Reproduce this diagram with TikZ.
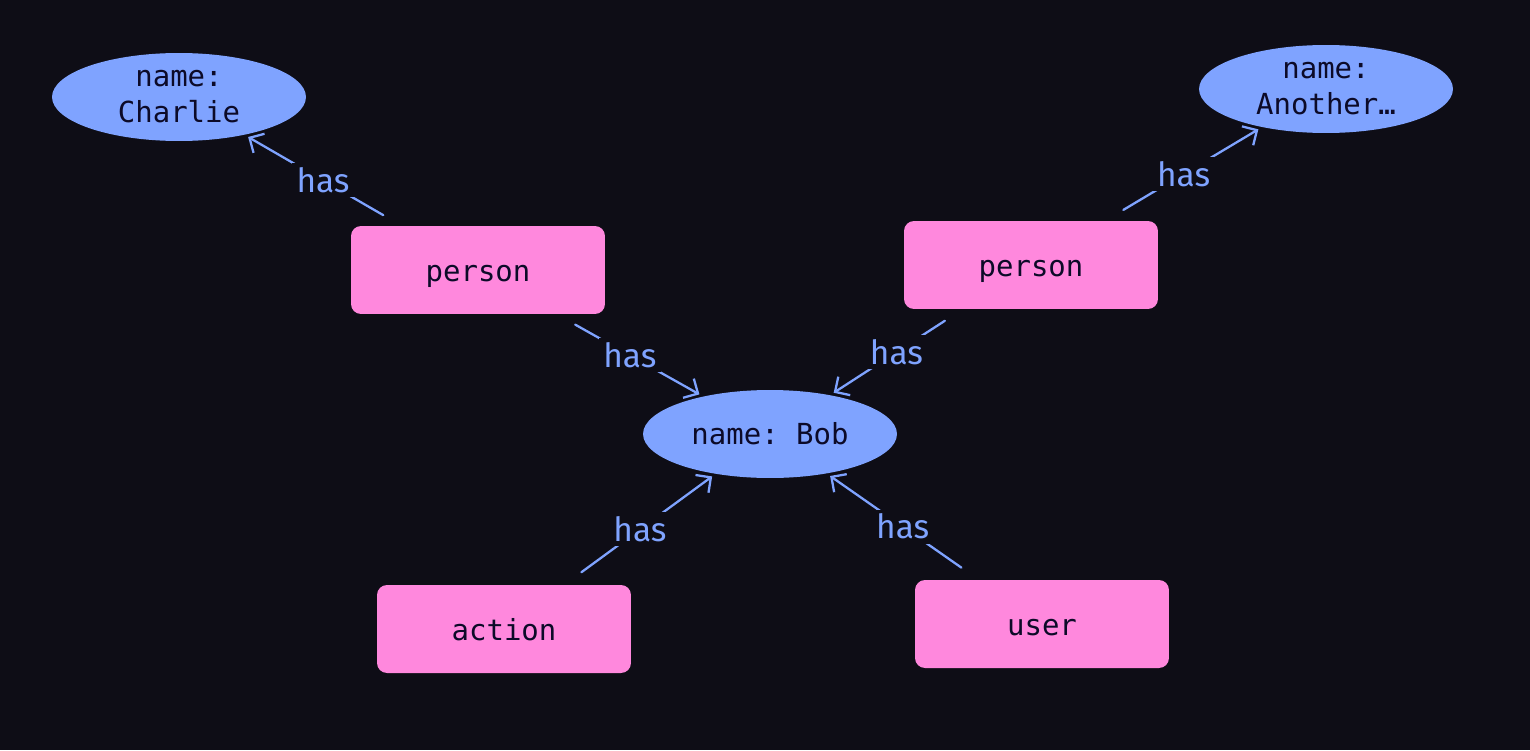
\documentclass[tikz,border=0pt]{standalone}
\usepackage{fontspec}
\usetikzlibrary{shapes.geometric,arrows.meta}
\newfontfamily\nodefont{DejaVu Sans Mono}
\newfontfamily\labelfont{Fira Sans}
\definecolor{bgdark}{HTML}{0E0D16}
\definecolor{propblue}{HTML}{7FA3FF}
\definecolor{typepink}{HTML}{FF88DD}
\definecolor{inkdark}{HTML}{0C0A28}
\frenchspacing
\begin{document}
\begin{tikzpicture}[x=0.02cm, y=-0.02cm, line join=round, line cap=round,
    typebox/.style={rectangle, rounded corners=0.2cm, fill=typepink, text=inkdark,
      minimum width=5.08cm, minimum height=1.76cm, text height=0.5cm, text depth=0.05cm,
      font=\nodefont\fontsize{16.5}{20}\selectfont},
    propnode/.style={ellipse, fill=propblue, text=inkdark, inner sep=0pt, align=center,
      minimum width=5.08cm, minimum height=1.76cm,
      font=\nodefont\fontsize{16.5}{20.5}\selectfont},
    hasedge/.style={draw=propblue, line width=1.3pt,
      -{Straight Barb[length=2.2mm, width=4.4mm]},
      shorten <=0.42cm, shorten >=0.08cm},
    haslabel/.style={fill=bgdark, text=propblue, inner sep=2.5pt,
      font=\labelfont\fontsize{19}{22}\selectfont}]
  \fill[bgdark] (0,0) rectangle (1530,750);
  \useasboundingbox (0,0) rectangle (1530,750);
  \node[propnode] (charlie) at (179,97) {name:\\Charlie};
  \node[propnode] (another) at (1326,89) {name:\\Another…};
  \node[propnode] (bob) at (770,434) {name: Bob};
  \node[typebox] (personA) at (478,270) {person};
  \node[typebox] (personB) at (1031,265) {person};
  \node[typebox] (action) at (504,629) {action};
  \node[typebox] (user) at (1042,624) {user};
  \draw[hasedge] (personA) -- node[haslabel] {has} (charlie);
  \draw[hasedge] (personA) -- node[haslabel] {has} (bob);
  \draw[hasedge] (personB) -- node[haslabel] {has} (bob);
  \draw[hasedge] (personB) -- node[haslabel] {has} (another);
  \draw[hasedge] (action) -- node[haslabel] {has} (bob);
  \draw[hasedge] (user) -- node[haslabel] {has} (bob);
\end{tikzpicture}
\end{document}
